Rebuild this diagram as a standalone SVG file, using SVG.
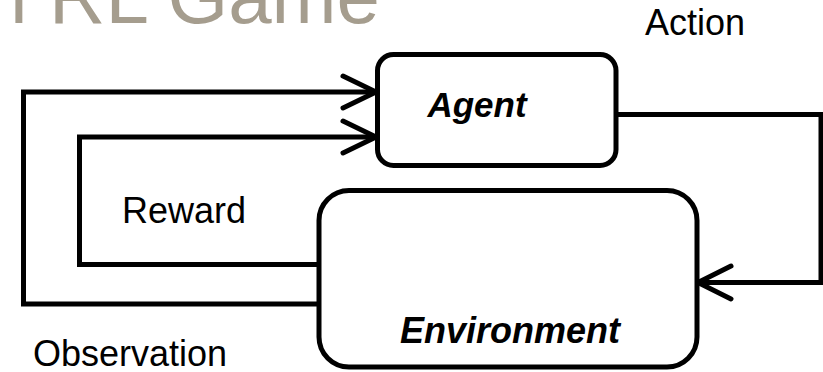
<svg xmlns="http://www.w3.org/2000/svg" width="823" height="372" viewBox="0 0 823 372">
  <style>
    .box { fill: #ffffff; stroke: #000000; stroke-width: 5; }
    .wire { fill: none; stroke: #000000; stroke-width: 5; stroke-linejoin: miter; stroke-linecap: butt; }
    .head { fill: none; stroke: #000000; stroke-width: 5; stroke-linecap: round; stroke-linejoin: miter; }
    .label { font-family: "Liberation Sans", Arial, sans-serif; font-size: 36px; fill: #000000; }
    .name { font-family: "Liberation Sans", Arial, sans-serif; font-weight: bold; font-style: italic; fill: #000000; }
    .title { font-family: "Liberation Sans", Arial, sans-serif; font-size: 78px; fill: #A59D8E; }
  </style>

  <rect width="823" height="372" fill="#ffffff"/>

  <text class="title" x="-16" y="23">n RL Game</text>

  <g id="connectors">
    <!-- observation: environment -> agent (outer loop) -->
    <path class="wire" d="M319,304 H23.5 V92 H375"/>
    <polyline class="head" points="343,76 376,92 343,108"/>
    <!-- reward: environment -> agent (inner loop) -->
    <path class="wire" d="M319,264.5 H79.5 V137 H375"/>
    <polyline class="head" points="343,121 376,137 343,153"/>
    <!-- action: agent -> environment -->
    <path class="wire" d="M616,114.5 H821 V282.5 H699"/>
    <polyline class="head" points="731,266 698,282.5 731,299"/>
  </g>

  <g id="agent">
    <rect class="box" x="377.5" y="54.5" width="238.5" height="111" rx="16" ry="16"/>
    <text class="name" x="477" y="117" font-size="35" text-anchor="middle">Agent</text>
  </g>

  <g id="environment">
    <rect class="box" x="319" y="190.5" width="378" height="176.5" rx="30" ry="30"/>
    <text class="name" x="510" y="343" font-size="36" text-anchor="middle">Environment</text>
  </g>

  <g id="labels">
    <text class="label" x="645" y="35">Action</text>
    <text class="label" x="122" y="223">Reward</text>
    <text class="label" x="33" y="366">Observation</text>
  </g>
</svg>
